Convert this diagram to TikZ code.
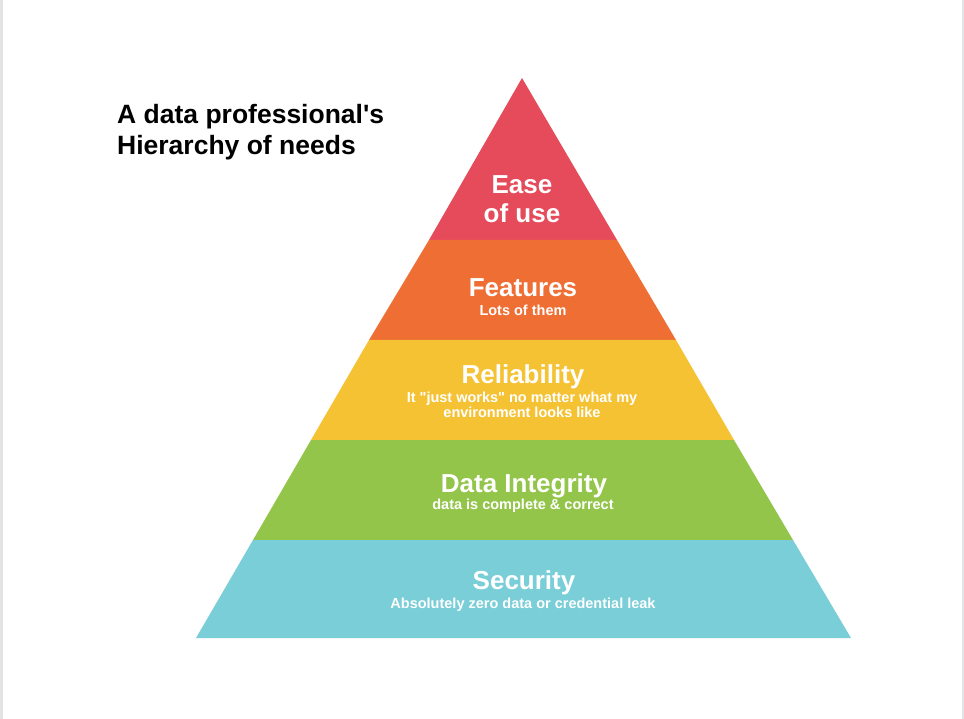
\documentclass[tikz,border=0pt]{standalone}
\usepackage{fontspec}
% straight quotes are kept as typed
\setmainfont{Liberation Sans}[Ligatures=TeXOff]
\definecolor{edgegray}{HTML}{E2E3E5}
\definecolor{tierred}{HTML}{E54B5B}
\definecolor{tierorange}{HTML}{EE6E34}
\definecolor{tieryellow}{HTML}{F4C233}
\definecolor{tiergreen}{HTML}{93C54B}
\definecolor{tierteal}{HTML}{79CED7}
\begin{document}
\begin{tikzpicture}[x=1pt,y=-1pt,
  tier/.style={draw=none},
  headtext/.style={text=white,font=\fontsize{26}{29}\selectfont\bfseries,inner sep=0pt,align=center},
  subtext/.style={text=white,font=\fontsize{14.5}{15.5}\selectfont\bfseries,inner sep=0pt,align=center},
  titletext/.style={text=black,font=\fontsize{26.5}{31}\selectfont\bfseries,inner sep=0pt,align=left,anchor=north west}]
  % page
  \fill[white] (0,0) rectangle (964,719);
  \useasboundingbox (0,0) rectangle (964,719);
  \fill[edgegray] (0,0) rectangle (3,719);
  \fill[edgegray] (962,0) rectangle (964,719);
  % pyramid corner points
  \coordinate (apex) at (522,78);
  \coordinate (l1) at (429,240); \coordinate (r1) at (617,240);
  \coordinate (l2) at (369,340); \coordinate (r2) at (676,340);
  \coordinate (l3) at (311,440); \coordinate (r3) at (734,440);
  \coordinate (l4) at (253,540); \coordinate (r4) at (793,540);
  \coordinate (l5) at (196,638); \coordinate (r5) at (851,638);
  \fill[tier,tierred] (apex) -- (r1) -- (l1) -- cycle;
  \fill[tier,tierorange] (l1) -- (r1) -- (r2) -- (l2) -- cycle;
  \fill[tier,tieryellow] (l2) -- (r2) -- (r3) -- (l3) -- cycle;
  \fill[tier,tiergreen] (l3) -- (r3) -- (r4) -- (l4) -- cycle;
  \fill[tier,tierteal] (l4) -- (r4) -- (r5) -- (l5) -- cycle;
  % labels
  \node[headtext] (ease) at (522,199) {Ease\\of use};
  \node[headtext] (feat) at (523,288) {Features};
  \node[subtext] (featsub) at (523,310) {Lots of them};
  \node[headtext] (rel) at (523,377) {Reliability};
  \node[subtext] (relsub) at (522,405) {It "just works" no matter what my\\environment looks like};
  \node[headtext] (integ) at (524,486) {Data Integrity};
  \node[subtext] (integsub) at (523,506) {data is complete \& correct};
  \node[headtext] (sec) at (524,583) {Security};
  \node[subtext] (secsub) at (523,605) {Absolutely zero data or credential leak};
  \node[titletext] (title) at (117,104) {A data professional's\\Hierarchy of needs};
\end{tikzpicture}
\end{document}
